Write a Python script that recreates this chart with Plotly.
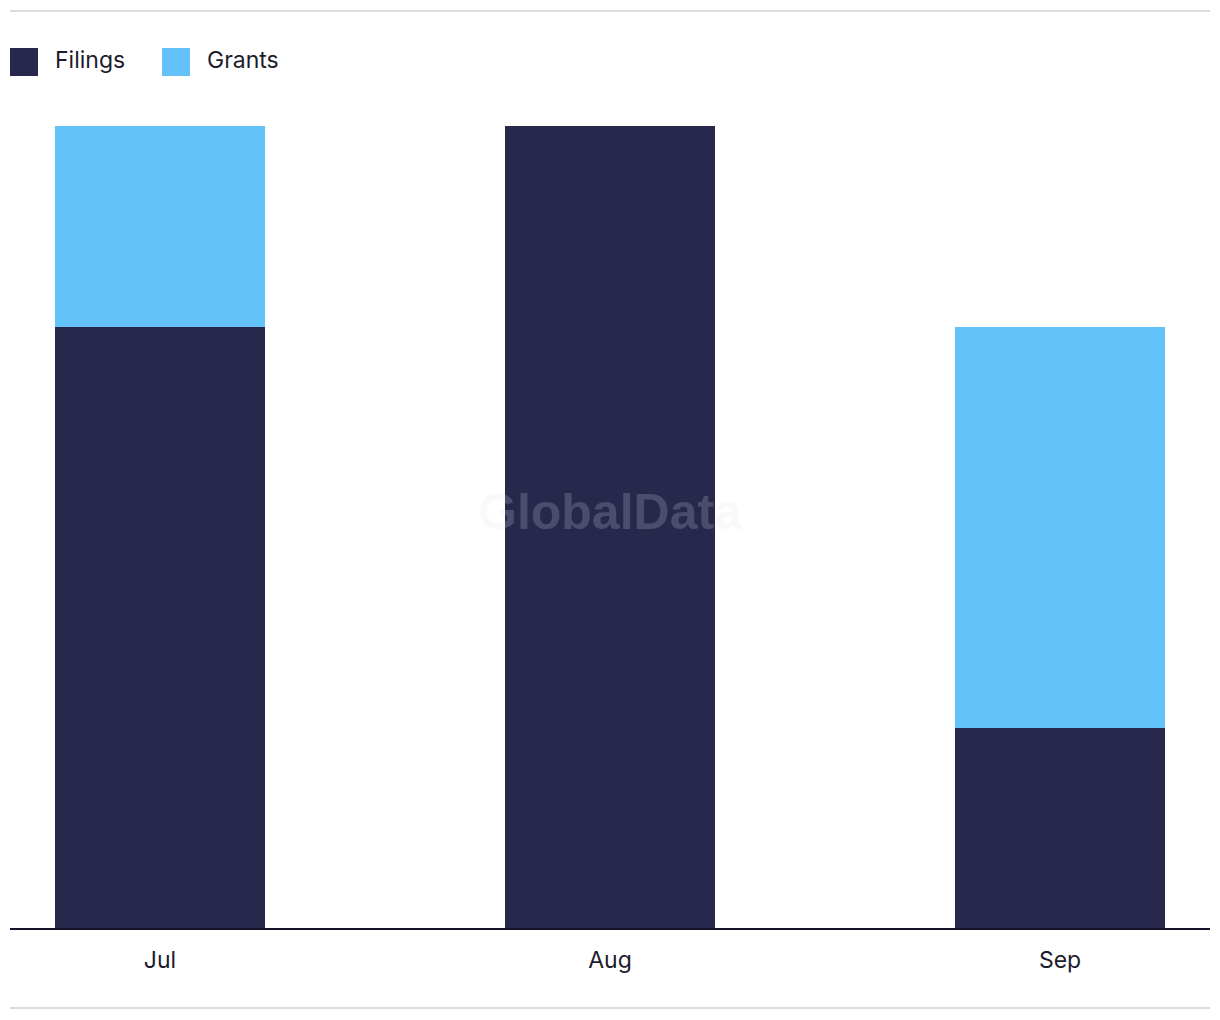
import plotly.graph_objects as go

months = ["Jul", "Aug", "Sep"]
filings = [3, 4, 1]
grants = [1, 0, 2]
series_names = ["Filings", "Grants"]
colors = ["#27284b", "#63c2f9"]

W, H = 1220, 1020
ml, mr, mt, mb = 10, 10, 126, 92

fig = go.Figure()
fig.add_trace(go.Bar(x=months, y=filings, name=series_names[0], marker_color=colors[0],
                     marker_line_width=0, width=0.4667, showlegend=False))
fig.add_trace(go.Bar(x=months, y=grants, name=series_names[1], marker_color=colors[1],
                     marker_line_width=0, width=0.4667, showlegend=False))

font_family = "Inter, 'Open Sans', sans-serif"

shapes = []
annotations = []
pw, ph = W - ml - mr, H - mt - mb
# top and bottom gray rules
for yy in (11, 1008):
    shapes.append(dict(type="line", xref="paper", yref="paper",
                       x0=(10 - ml) / pw, x1=(1210 - ml) / pw,
                       y0=(H - mb - yy) / ph, y1=(H - mb - yy) / ph,
                       line=dict(color="#dcdcdc", width=2)))
# manual legend
leg_x = [10, 162]
for i, name in enumerate(series_names):
    shapes.append(dict(type="rect", xref="paper", yref="paper",
                       x0=(leg_x[i] - ml) / pw, x1=(leg_x[i] + 28 - ml) / pw,
                       y0=(H - mb - 76) / ph, y1=(H - mb - 48) / ph,
                       fillcolor=colors[i], line=dict(width=0)))
    annotations.append(dict(text=name, xref="paper", yref="paper",
                            x=(leg_x[i] + 43 - ml) / pw,
                            y=(H - mb - 60) / ph,
                            xanchor="left", yanchor="middle", showarrow=False,
                            font=dict(family=font_family, size=23, color="#1c1c2e")))
# watermark
annotations.append(dict(text="<b>GlobalData</b>", xref="paper", yref="paper",
                        x=0.5, y=(H - mb - 512) / ph, showarrow=False,
                        xanchor="center", yanchor="middle",
                        font=dict(family="Liberation Sans, Arial, sans-serif", size=50,
                                  color="rgba(225,225,240,0.2)")))

fig.update_layout(
    width=W, height=H,
    margin=dict(l=ml, r=mr, t=mt, b=mb),
    barmode="stack",
    paper_bgcolor="white", plot_bgcolor="white",
    shapes=shapes, annotations=annotations,
    font=dict(family=font_family, color="#1c1c2e"),
)
fig.update_xaxes(range=[-1/3, 7/3], showline=True, linecolor="#14142a", linewidth=2,
                 ticks="", tickfont=dict(size=23, family=font_family, color="#1c1c2e"),
                 showgrid=False, zeroline=False, ticklabelstandoff=10)
fig.update_yaxes(range=[0, 4], visible=False, showgrid=False, zeroline=False)

fig.write_html("out.html")
